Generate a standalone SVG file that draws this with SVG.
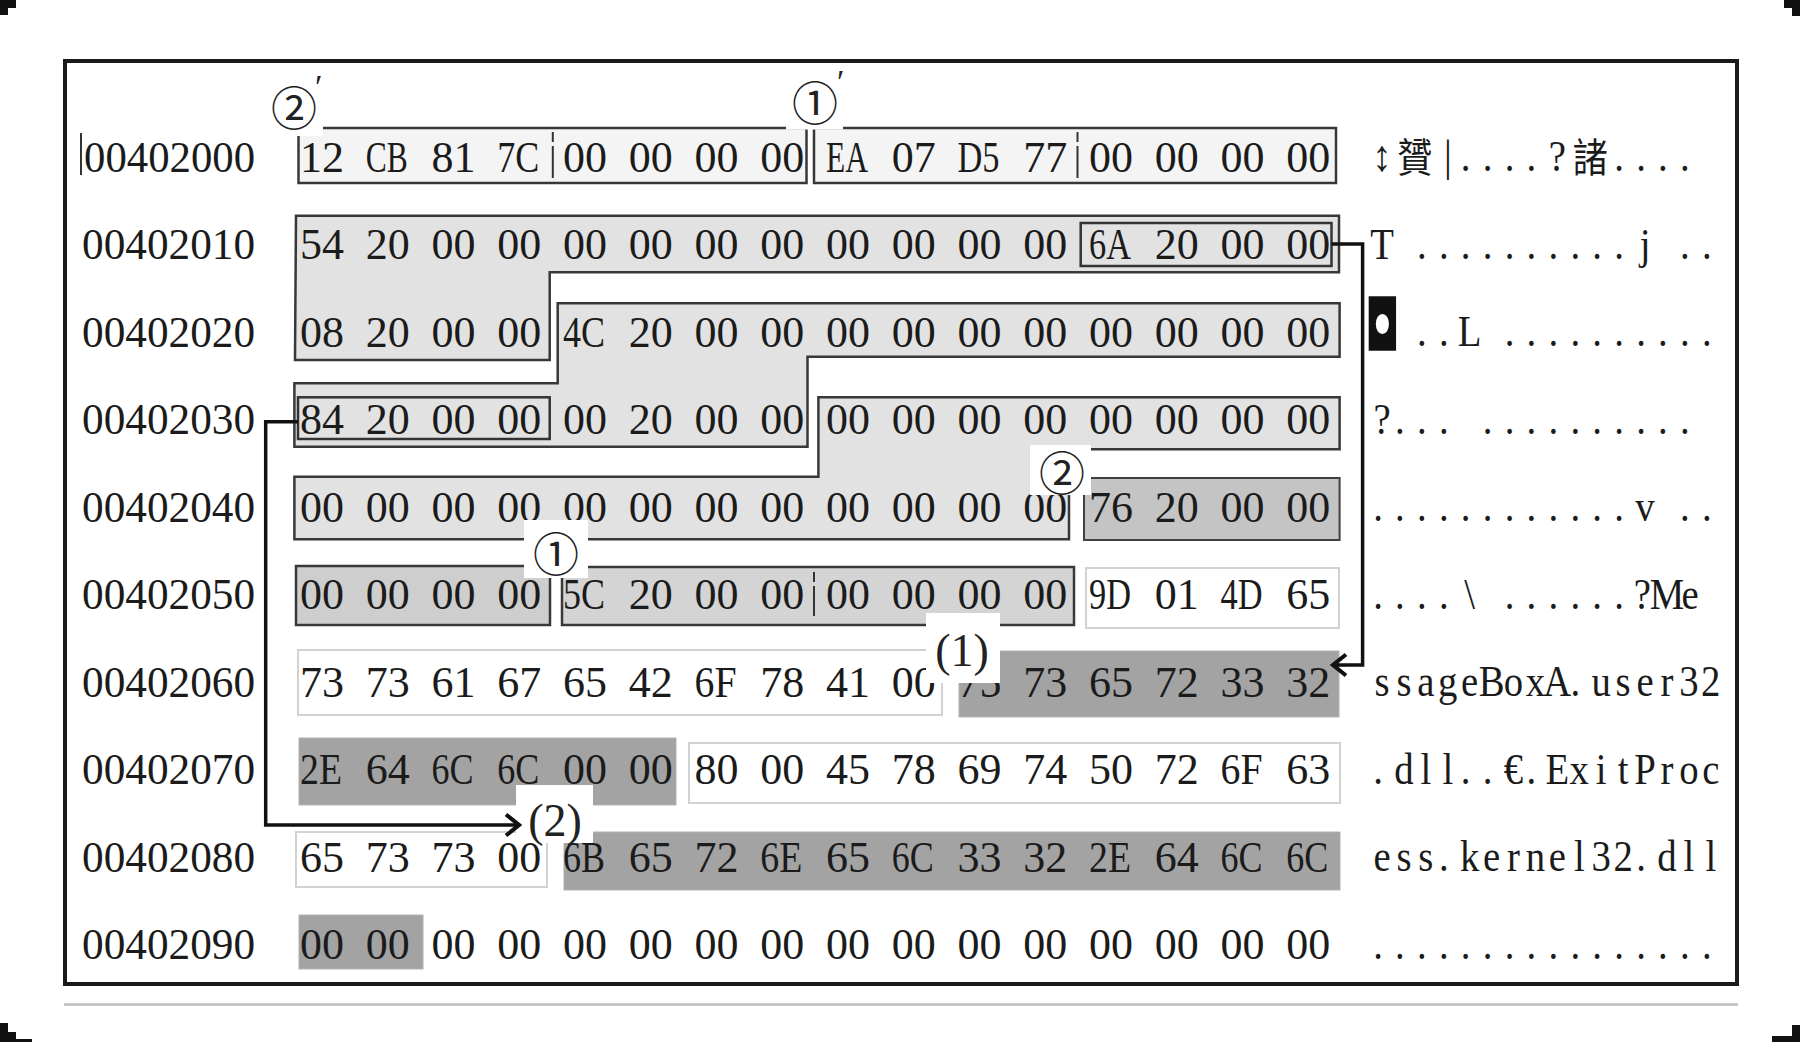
<svg xmlns="http://www.w3.org/2000/svg" width="1800" height="1042" viewBox="0 0 1800 1042">
<defs>
<style>
.hx{font-family:"Liberation Serif","Times New Roman",serif;font-size:44px;fill:#1b1b1b}
.ad{font-family:"Liberation Serif","Times New Roman",serif;font-size:44px;fill:#1b1b1b}
.as{font-family:"Liberation Serif","Times New Roman","DejaVu Sans",serif;font-size:44px;fill:#1b1b1b;text-anchor:middle}
.cj{font-family:"Noto Sans CJK SC","Noto Sans CJK TC",sans-serif;font-size:40px;fill:#1b1b1b;text-anchor:middle}
.rg{fill:#e2e2e2;stroke:#383838;stroke-width:2.5}
.bx{fill:none;stroke:#333;stroke-width:2.5}
.lt{fill:#f4f4f4;stroke:#383838;stroke-width:2.5}
.md{fill:#cecece;stroke:#383838;stroke-width:2.5}
.m2{fill:#c4c4c4;stroke:#404040;stroke-width:2}
.wh{fill:#fff;stroke:#d2d2d2;stroke-width:2}
.dk{fill:#a3a3a3;stroke:#b2b2b2;stroke-width:1}
.sep{stroke:#333;stroke-width:2;stroke-dasharray:10 4 40}
.lb{fill:#fff}
.ci{font-family:"Noto Sans CJK SC","DejaVu Sans",sans-serif;font-size:46px;fill:#222;text-anchor:middle;dominant-baseline:central}
.pr{font-family:"Liberation Serif",serif;font-size:34px;fill:#222}
.pl{font-family:"Liberation Serif","Times New Roman",serif;font-size:46px;fill:#222;text-anchor:middle}
.cn{fill:none;stroke:#111;stroke-width:3.5}
.cm{fill:#111}
</style>
<marker id="ah" markerWidth="18" markerHeight="26" refX="15" refY="12.5" orient="auto" markerUnits="userSpaceOnUse">
<path d="M2,2 L15,12.5 L2,23" fill="none" stroke="#111" stroke-width="4"/>
</marker>
</defs>
<rect width="1800" height="1042" fill="#fff"/>
<g id="corners">
<rect class="cm" x="0" y="0" width="16" height="8"/><rect class="cm" x="0" y="0" width="8" height="15"/>
<rect class="cm" x="1784" y="0" width="16" height="8"/><rect class="cm" x="1792" y="0" width="8" height="16"/>
<rect class="cm" x="0" y="1023" width="8" height="19"/><rect class="cm" x="8" y="1032" width="8" height="10"/><rect class="cm" x="16" y="1039" width="16" height="3"/>
<rect class="cm" x="1792" y="1025" width="8" height="17"/><rect class="cm" x="1772" y="1036" width="28" height="6"/>
</g>
<g id="frame">
<rect x="65" y="61" width="1672" height="923" fill="#fff" stroke="#1a1a1a" stroke-width="4"/>
<line x1="64" y1="1004.5" x2="1738" y2="1004.5" stroke="#bdbdbd" stroke-width="2.5"/>
</g>
<g id="dword-a"><rect class="lt" x="298.5" y="128" width="508" height="55"/><line class="sep" x1="552.8" y1="132" x2="552.8" y2="178"/></g>
<g id="dword-b"><rect class="lt" x="814" y="128" width="522" height="55"/><line class="sep" x1="1077.5" y1="132" x2="1077.5" y2="178"/></g>
<g id="region-1"><path class="rg" d="M296,215.7 H1339 V272.3 H549.7 V360 H295 Z"/></g>
<g id="box-6a"><rect class="bx" x="1080.7" y="223" width="250.8" height="43"/></g>
<g id="region-2"><path class="rg" d="M557.7,303.3 H1339.6 V356.7 H807.5 V446.7 H294.4 V383.3 H557.7 Z"/></g>
<g id="box-84"><rect class="bx" x="298" y="397.3" width="251.7" height="41.7"/></g>
<g id="region-3"><path class="rg" d="M818.4,397.3 H1339.6 V449.3 H1069 V539.3 H294.4 V476.7 H818.4 Z"/></g>
<g id="box-76"><rect class="m2" x="1084" y="478" width="255.6" height="62"/></g>
<g id="box-r5a"><rect class="md" x="296" y="566" width="254" height="59"/></g>
<g id="box-5c"><rect class="md" x="562" y="567" width="512" height="58" style="fill:#d4d4d4"/><line class="sep" x1="814" y1="572" x2="814" y2="616"/></g>
<g id="box-9d"><rect class="wh" x="1086" y="568" width="253" height="60"/></g>
<g id="box-r6a"><rect class="wh" x="298" y="650" width="644" height="65"/></g>
<g id="box-user32"><rect class="dk" x="959" y="651" width="380" height="66"/></g>
<g id="box-dll1"><rect class="dk" x="299" y="738" width="377" height="67"/></g>
<g id="box-r7b"><rect class="wh" x="689" y="743" width="651" height="60"/></g>
<g id="box-r8a"><rect class="wh" x="296" y="832" width="251" height="55"/></g>
<g id="box-kernel32"><rect class="dk" x="564" y="832" width="776" height="58"/></g>
<g id="box-r9"><rect class="dk" x="299" y="915" width="124" height="54"/></g>

<g id="addresses">
<line x1="81" y1="133" x2="81" y2="175" stroke="#333" stroke-width="2"/>
<text class="ad" x="84" y="171.5" textLength="171" lengthAdjust="spacingAndGlyphs">00402000</text>
<text class="ad" x="82" y="259" textLength="173" lengthAdjust="spacingAndGlyphs">00402010</text>
<text class="ad" x="82" y="346.5" textLength="173" lengthAdjust="spacingAndGlyphs">00402020</text>
<text class="ad" x="82" y="434" textLength="173" lengthAdjust="spacingAndGlyphs">00402030</text>
<text class="ad" x="82" y="521.5" textLength="173" lengthAdjust="spacingAndGlyphs">00402040</text>
<text class="ad" x="82" y="609" textLength="173" lengthAdjust="spacingAndGlyphs">00402050</text>
<text class="ad" x="82" y="696.5" textLength="173" lengthAdjust="spacingAndGlyphs">00402060</text>
<text class="ad" x="82" y="784" textLength="173" lengthAdjust="spacingAndGlyphs">00402070</text>
<text class="ad" x="82" y="871.5" textLength="173" lengthAdjust="spacingAndGlyphs">00402080</text>
<text class="ad" x="82" y="959" textLength="173" lengthAdjust="spacingAndGlyphs">00402090</text>
</g>

<g id="hex">
<text class="hx" y="171.5"><tspan x="300">12</tspan><tspan x="365.75" textLength="42" lengthAdjust="spacingAndGlyphs">CB</tspan><tspan x="431.5">81</tspan><tspan x="497.25" textLength="42" lengthAdjust="spacingAndGlyphs">7C</tspan><tspan x="563">00</tspan><tspan x="628.75">00</tspan><tspan x="694.5">00</tspan><tspan x="760.25">00</tspan><tspan x="826" textLength="42" lengthAdjust="spacingAndGlyphs">EA</tspan><tspan x="891.75">07</tspan><tspan x="957.5" textLength="42" lengthAdjust="spacingAndGlyphs">D5</tspan><tspan x="1023.25">77</tspan><tspan x="1089">00</tspan><tspan x="1154.75">00</tspan><tspan x="1220.5">00</tspan><tspan x="1286.25">00</tspan></text>
<text class="hx" y="259"><tspan x="300">54</tspan><tspan x="365.75">20</tspan><tspan x="431.5">00</tspan><tspan x="497.25">00</tspan><tspan x="563">00</tspan><tspan x="628.75">00</tspan><tspan x="694.5">00</tspan><tspan x="760.25">00</tspan><tspan x="826">00</tspan><tspan x="891.75">00</tspan><tspan x="957.5">00</tspan><tspan x="1023.25">00</tspan><tspan x="1089" textLength="42" lengthAdjust="spacingAndGlyphs">6A</tspan><tspan x="1154.75">20</tspan><tspan x="1220.5">00</tspan><tspan x="1286.25">00</tspan></text>
<text class="hx" y="346.5"><tspan x="300">08</tspan><tspan x="365.75">20</tspan><tspan x="431.5">00</tspan><tspan x="497.25">00</tspan><tspan x="563" textLength="42" lengthAdjust="spacingAndGlyphs">4C</tspan><tspan x="628.75">20</tspan><tspan x="694.5">00</tspan><tspan x="760.25">00</tspan><tspan x="826">00</tspan><tspan x="891.75">00</tspan><tspan x="957.5">00</tspan><tspan x="1023.25">00</tspan><tspan x="1089">00</tspan><tspan x="1154.75">00</tspan><tspan x="1220.5">00</tspan><tspan x="1286.25">00</tspan></text>
<text class="hx" y="434"><tspan x="300">84</tspan><tspan x="365.75">20</tspan><tspan x="431.5">00</tspan><tspan x="497.25">00</tspan><tspan x="563">00</tspan><tspan x="628.75">20</tspan><tspan x="694.5">00</tspan><tspan x="760.25">00</tspan><tspan x="826">00</tspan><tspan x="891.75">00</tspan><tspan x="957.5">00</tspan><tspan x="1023.25">00</tspan><tspan x="1089">00</tspan><tspan x="1154.75">00</tspan><tspan x="1220.5">00</tspan><tspan x="1286.25">00</tspan></text>
<text class="hx" y="521.5"><tspan x="300">00</tspan><tspan x="365.75">00</tspan><tspan x="431.5">00</tspan><tspan x="497.25">00</tspan><tspan x="563">00</tspan><tspan x="628.75">00</tspan><tspan x="694.5">00</tspan><tspan x="760.25">00</tspan><tspan x="826">00</tspan><tspan x="891.75">00</tspan><tspan x="957.5">00</tspan><tspan x="1023.25">00</tspan><tspan x="1089">76</tspan><tspan x="1154.75">20</tspan><tspan x="1220.5">00</tspan><tspan x="1286.25">00</tspan></text>
<text class="hx" y="609"><tspan x="300">00</tspan><tspan x="365.75">00</tspan><tspan x="431.5">00</tspan><tspan x="497.25">00</tspan><tspan x="563" textLength="42" lengthAdjust="spacingAndGlyphs">5C</tspan><tspan x="628.75">20</tspan><tspan x="694.5">00</tspan><tspan x="760.25">00</tspan><tspan x="826">00</tspan><tspan x="891.75">00</tspan><tspan x="957.5">00</tspan><tspan x="1023.25">00</tspan><tspan x="1089" textLength="42" lengthAdjust="spacingAndGlyphs">9D</tspan><tspan x="1154.75">01</tspan><tspan x="1220.5" textLength="42" lengthAdjust="spacingAndGlyphs">4D</tspan><tspan x="1286.25">65</tspan></text>
<text class="hx" y="696.5"><tspan x="300">73</tspan><tspan x="365.75">73</tspan><tspan x="431.5">61</tspan><tspan x="497.25">67</tspan><tspan x="563">65</tspan><tspan x="628.75">42</tspan><tspan x="694.5" textLength="42" lengthAdjust="spacingAndGlyphs">6F</tspan><tspan x="760.25">78</tspan><tspan x="826">41</tspan><tspan x="891.75">00</tspan><tspan x="957.5">75</tspan><tspan x="1023.25">73</tspan><tspan x="1089">65</tspan><tspan x="1154.75">72</tspan><tspan x="1220.5">33</tspan><tspan x="1286.25">32</tspan></text>
<text class="hx" y="784"><tspan x="300" textLength="42" lengthAdjust="spacingAndGlyphs">2E</tspan><tspan x="365.75">64</tspan><tspan x="431.5" textLength="42" lengthAdjust="spacingAndGlyphs">6C</tspan><tspan x="497.25" textLength="42" lengthAdjust="spacingAndGlyphs">6C</tspan><tspan x="563">00</tspan><tspan x="628.75">00</tspan><tspan x="694.5">80</tspan><tspan x="760.25">00</tspan><tspan x="826">45</tspan><tspan x="891.75">78</tspan><tspan x="957.5">69</tspan><tspan x="1023.25">74</tspan><tspan x="1089">50</tspan><tspan x="1154.75">72</tspan><tspan x="1220.5" textLength="42" lengthAdjust="spacingAndGlyphs">6F</tspan><tspan x="1286.25">63</tspan></text>
<text class="hx" y="871.5"><tspan x="300">65</tspan><tspan x="365.75">73</tspan><tspan x="431.5">73</tspan><tspan x="497.25">00</tspan><tspan x="563" textLength="42" lengthAdjust="spacingAndGlyphs">6B</tspan><tspan x="628.75">65</tspan><tspan x="694.5">72</tspan><tspan x="760.25" textLength="42" lengthAdjust="spacingAndGlyphs">6E</tspan><tspan x="826">65</tspan><tspan x="891.75" textLength="42" lengthAdjust="spacingAndGlyphs">6C</tspan><tspan x="957.5">33</tspan><tspan x="1023.25">32</tspan><tspan x="1089" textLength="42" lengthAdjust="spacingAndGlyphs">2E</tspan><tspan x="1154.75">64</tspan><tspan x="1220.5" textLength="42" lengthAdjust="spacingAndGlyphs">6C</tspan><tspan x="1286.25" textLength="42" lengthAdjust="spacingAndGlyphs">6C</tspan></text>
<text class="hx" y="959"><tspan x="300">00</tspan><tspan x="365.75">00</tspan><tspan x="431.5">00</tspan><tspan x="497.25">00</tspan><tspan x="563">00</tspan><tspan x="628.75">00</tspan><tspan x="694.5">00</tspan><tspan x="760.25">00</tspan><tspan x="826">00</tspan><tspan x="891.75">00</tspan><tspan x="957.5">00</tspan><tspan x="1023.25">00</tspan><tspan x="1089">00</tspan><tspan x="1154.75">00</tspan><tspan x="1220.5">00</tspan><tspan x="1286.25">00</tspan></text>
</g>

<g id="label-bgs">
<rect class="lb" x="266" y="74" width="57" height="62"/>
<rect class="lb" x="786" y="68" width="57" height="61.5"/>
<rect class="lb" x="1030" y="445" width="61" height="50"/>
<rect class="lb" x="524" y="520" width="64" height="58"/>
<rect class="lb" x="926" y="613" width="74" height="70"/>
<rect class="lb" x="516" y="785" width="77" height="58"/>
</g>
<g id="labels">
<text class="ci" x="294" y="105">②</text><text class="pr" x="315" y="98">′</text>
<text class="ci" x="815" y="100">①</text><text class="pr" x="837" y="93">′</text>
<text class="ci" x="1062" y="470">②</text>
<text class="ci" x="556" y="551">①</text>
<text class="pl" x="962" y="666">(1)</text>
<text class="pl" x="555" y="836">(2)</text>
</g>

<g id="connectors">
<path class="cn" d="M1331.5,244 H1362.6 V665 H1333" marker-end="url(#ah)"/>
<path class="cn" d="M298,421.7 H265.7 V825 H519" marker-end="url(#ah)"/>
</g>

<text transform="translate(1382.5,350) scale(1.6,2.5)" x="0" y="0" style="font-family:'DejaVu Sans',sans-serif;font-size:28px;fill:#111;text-anchor:middle">◘</text>
<g id="ascii" transform="translate(1382,0) scale(0.88,1)">
<text class="as" y="171.5" x="0">↕</text>
<text class="cj" y="172" x="37.39">贇</text>
<text class="as" y="171.5" x="74.73 95.09 120 144.9 169.81 199.27">|....?</text>
<text class="cj" y="172" x="236.7">諸</text>
<text class="as" y="171.5" x="269.45 294.36 319.27 344.18">....</text>
<text class="as" y="259" x="0 24.91 45.27 70.18 95.09 120 144.9 169.81 194.72 219.63 244.54 269.45 298.91 323.82 344.18 369.09">T ..........j ..</text>
<text class="as" y="346.5" x="45.27 70.18 99.64 124.55 144.9 169.81 194.72 219.63 244.54 269.45 294.36 319.27 344.18 369.09">..L ..........</text>
<text class="as" y="434" x="0 20.36 45.27 70.18 99.64 120 144.9 169.81 194.72 219.63 244.54 269.45 294.36 319.27 344.18">?... ..........</text>
<text class="as" y="521.5" x="-4.55 20.36 45.27 70.18 95.09 120 144.9 169.81 194.72 219.63 244.54 269.45 298.91 323.82 344.18 369.09">............v ..</text>
<text class="as" y="609" x="-4.55 20.36 45.27 70.18 99.64 124.55 144.9 169.81 194.72 219.63 244.54 269.45 296 323.82 350">....\ ......?Me</text>
<text class="as" y="696.5" x="0 24.91 49.82 74.73 99.64 124.55 149.45 174.36 199.27 219.63 249.09 274 298.91 323.82 348.73 373.64">ssageBoxA.user32</text>
<text class="as" y="784" x="-4.55 24.91 49.82 74.73 95.09 120 149.45 169.81 199.27 224.18 249.09 274 298.91 323.82 348.73 373.64">.dll..€.ExitProc</text>
<text class="as" y="871.5" x="0 24.91 49.82 70.18 99.64 124.55 149.45 174.36 199.27 224.18 249.09 274 294.36 323.82 348.73 373.64">ess.kernel32.dll</text>
<text class="as" y="959" x="-4.55 20.36 45.27 70.18 95.09 120 144.9 169.81 194.72 219.63 244.54 269.45 294.36 319.27 344.18 369.09">................</text>
</g>
</svg>
